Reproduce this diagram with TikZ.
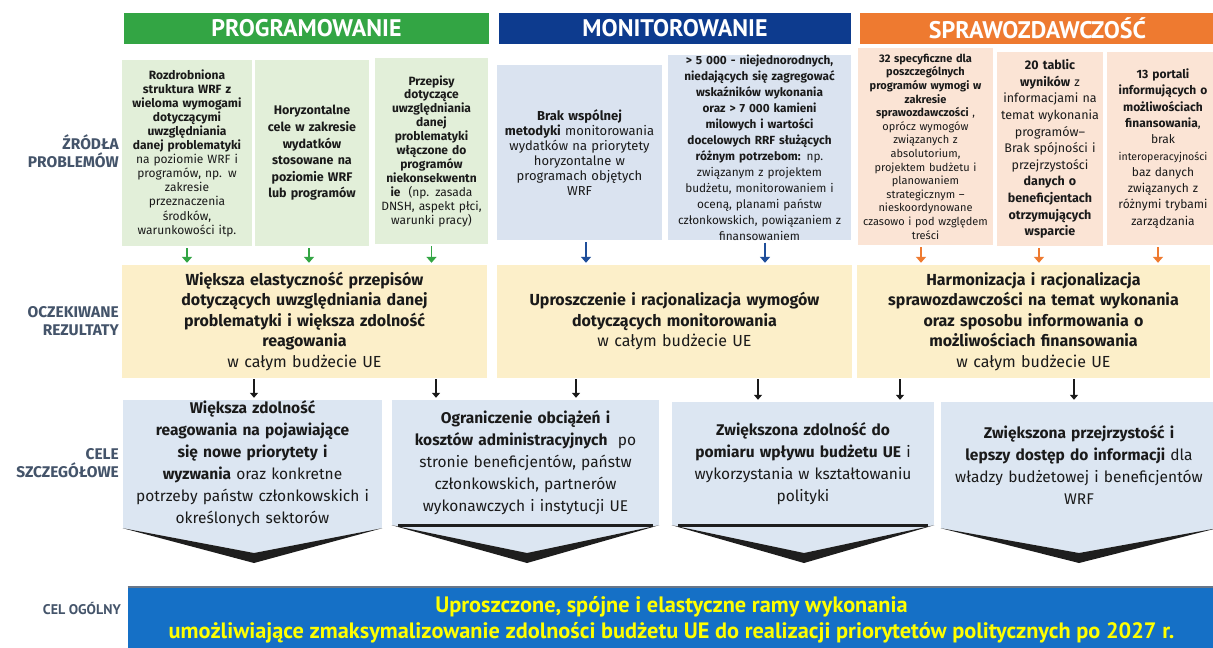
\documentclass[tikz,border=0pt]{standalone}
\usepackage{fontspec}
\setmainfont{Fira Sans}
\newfontfamily\condfont{PT Sans}
\usetikzlibrary{arrows.meta}
\definecolor{hgreen}{HTML}{33A544}
\definecolor{hblue}{HTML}{0D3B8E}
\definecolor{horange}{HTML}{EE7A30}
\definecolor{lgreen}{HTML}{E2EFD9}
\definecolor{lblue}{HTML}{DAE3F0}
\definecolor{lorange}{HTML}{FBE4D5}
\definecolor{lyellow}{HTML}{FCEFC9}
\definecolor{lchev}{HTML}{DCE6F2}
\definecolor{barblue}{HTML}{1570C6}
\definecolor{baryellow}{HTML}{FFFF00}
\definecolor{labelc}{HTML}{44546A}
\definecolor{ink}{HTML}{1A1A1A}
\definecolor{arrblue}{HTML}{1F4E9A}
\definecolor{shadowc}{HTML}{1E1E1E}
\tikzset{
  hdr/.style={fill=#1, text=white, font=\condfont\bfseries\fontsize{24}{26}\selectfont, inner sep=0pt, minimum height=31pt},
  srcbox/.style={fill=#1, text=ink, align=center, inner sep=0pt},
  resbox/.style={fill=lyellow, text=ink, align=center, inner sep=0pt, minimum height=113pt, font=\fontsize{16}{20.5}\selectfont},
  objbox/.style={fill=lchev, text=ink, align=center, inner sep=0pt, font=\fontsize{15.5}{22}\selectfont},
  rowlabel/.style={text=labelc, font=\bfseries\fontsize{15.5}{17.5}\selectfont, align=right, anchor=east, inner sep=0pt},
  carr/.style={draw=#1, line width=1.8pt, -{Triangle[length=6pt,width=10pt]}, shorten <=2pt, shorten >=2pt},
  karr/.style={draw=ink, line width=1.6pt, -{Triangle[length=5pt,width=8pt]}, shorten <=1pt, shorten >=2pt},
  shadowband/.style={fill=shadowc},
  chevline/.style={draw=shadowc, line width=2.6pt},
}
\begin{document}
\begin{tikzpicture}[x=1pt,y=-1pt]
\useasboundingbox (0,0) rectangle (1213,648);
\clip (0,0) rectangle (1213,648);
\fill[white] (0,0) rectangle (1213,648);

% headers
\node[hdr=hgreen, minimum width=365pt] (hp) at (306.5,28.5) {PROGRAMOWANIE};
\node[hdr=hblue, minimum width=352pt] (hm) at (675,28.5) {MONITOROWANIE};
\node[hdr=horange, minimum width=355pt] (hs) at (1037.5,28.5) {SPRAWOZDAWCZOŚĆ};

% row labels
\node[rowlabel] (l1) at (119,151) {ŹRÓDŁA\\PROBLEMÓW};
\node[rowlabel] (l2) at (119,321) {OCZEKIWANE\\REZULTATY};
\node[rowlabel] (l3) at (119,463) {CELE\\SZCZEGÓŁOWE};
\node[rowlabel, font=\condfont\bfseries\fontsize{14}{16}\selectfont] (l4) at (121,609) {CEL OGÓLNY};

% sources of problems
\node[srcbox=lgreen, minimum width=130pt, minimum height=186pt, text width=128pt, font=\fontsize{12}{14.1}\selectfont] (g1) at (187,153)
 {\bfseries Rozdrobniona\\struktura WRF z\\wieloma wymogami\\dotyczącymi\\uwzględniania\\danej problematyki\\\mdseries na poziomie WRF i\\programów, np. w\\zakresie\\przeznaczenia\\środków,\\warunkowości itp.};
\node[srcbox=lgreen, minimum width=114pt, minimum height=186pt, text width=112pt, font=\fontsize{12.5}{16.6}\selectfont] (g2) at (312,153)
 {\bfseries Horyzontalne\\cele w zakresie\\wydatków\\stosowane na\\poziomie WRF\\lub programów};
\node[srcbox=lgreen, minimum width=113pt, minimum height=186pt, text width=111pt, font=\fontsize{12}{13.9}\selectfont] (g3) at (431.5,151)
 {\bfseries Przepisy\\dotyczące\\uwzględniania\\danej\\problematyki\\włączone do\\programów\\niekonsekwentn\\ie\mdseries{}\ \ (np. zasada\\DNSH, aspekt płci,\\warunki pracy)};

\node[srcbox=lblue, minimum width=165pt, minimum height=175pt, text width=162pt, font=\fontsize{13}{15}\selectfont] (m1) at (579.5,152.5)
 {\bfseries Brak wspólnej\\metodyki \mdseries monitorowania\\wydatków na priorytety\\horyzontalne w\\programach objętych\\WRF};
\node[srcbox=lblue, minimum width=183pt, minimum height=185pt, text width=181pt, font=\fontsize{11.8}{16}\selectfont] (m2) at (759.5,147.5)
 {\bfseries > 5 000 - niejednorodnych,\\niedających się zagregować\\wskaźników wykonania\\oraz > 7 000 kamieni\\milowych i wartości\\docelowych RRF służących\\różnym potrzebom:\mdseries{} np.\\związanym z projektem\\budżetu, monitorowaniem i\\oceną, planami państw\\członkowskich, powiązaniem z\\finansowaniem};

\node[srcbox=lorange, minimum width=135pt, minimum height=197pt, text width=134pt, font=\fontsize{11}{13.6}\selectfont] (o1) at (925.5,146.5)
 {\bfseries 32 specyficzne dla\\poszczególnych\\programów wymogi w\\zakresie\\sprawozdawczości\mdseries{} ,\\oprócz wymogów\\związanych z\\absolutorium,\\projektem budżetu i\\planowaniem\\strategicznym –\\nieskoordynowane\\czasowo i pod względem\\treści};
\node[srcbox=lorange, minimum width=106pt, minimum height=194pt, text width=105pt, font=\fontsize{12.5}{16.6}\selectfont] (o2) at (1050,149)
 {\bfseries 20 tablic\\wyników \mdseries z\\informacjami na\\temat wykonania\\programów–\\Brak spójności i\\przejrzystości\\\bfseries danych o\\beneficjentach\\otrzymujących\\wsparcie};
\node[srcbox=lorange, minimum width=112pt, minimum height=193pt, text width=98pt, font=\fontsize{12}{16.3}\selectfont] (o3) at (1163,148.5)
 {\bfseries 13 portali\\informujących o\\możliwościach\\finansowania\mdseries ,\\brak\\{\fontsize{10.6}{16.3}\selectfont interoperacyjności}\\baz danych\\związanych z\\różnymi trybami\\zarządzania};

% expected results
\node[resbox, minimum width=365pt, text width=362pt] (r1) at (304.5,321.5)
 {\bfseries Większa elastyczność przepisów\\dotyczących uwzględniania danej\\problematyki i większa zdolność\\reagowania\\\mdseries w całym budżecie UE};
\node[resbox, minimum width=355pt, text width=352pt] (r2) at (674.5,321.5)
 {\bfseries Uproszczenie i racjonalizacja wymogów\\dotyczących monitorowania\\\mdseries w całym budżecie UE};
\node[resbox, minimum width=353pt, text width=350pt] (r3) at (1033.5,321.5)
 {\bfseries Harmonizacja i racjonalizacja\\sprawozdawczości na temat wykonania\\oraz sposobu informowania o\\możliwościach finansowania\\\mdseries w całym budżecie UE};

% arrows sources -> results
\draw[carr=hgreen] (g1.south) -- (g1.south |- r1.north);
\draw[carr=hgreen] ([xshift=-3pt]g2.south) -- ([xshift=-3pt]g2.south |- r1.north);
\draw[carr=hgreen] (g3.south) -- (g3.south |- r1.north);
\draw[carr=arrblue] ([xshift=6.5pt]m1.south) -- ([xshift=6.5pt]m1.south |- r2.north);
\draw[carr=arrblue] ([xshift=5.5pt]m2.south) -- ([xshift=5.5pt]m2.south |- r2.north);
\draw[carr=horange] ([xshift=-4.5pt]o1.south) -- ([xshift=-4.5pt]o1.south |- r3.north);
\draw[carr=horange] ([xshift=-11pt]o2.south) -- ([xshift=-11pt]o2.south |- r3.north);
\draw[carr=horange] ([xshift=-5pt]o3.south) -- ([xshift=-5pt]o3.south |- r3.north);

% specific objectives
\node[objbox, minimum width=259pt, minimum height=128pt, text width=257pt] (c1) at (252.5,464)
 {\bfseries Większa zdolność\\reagowania na pojawiające\\się nowe priorytety i\\wyzwania\mdseries{} oraz konkretne\\potrzeby państw członkowskich i\\określonych sektorów};
\node[objbox, minimum width=267pt, minimum height=125pt, text width=265pt] (c2) at (525.5,462.5)
 {\bfseries Ograniczenie obciążeń i\\kosztów administracyjnych\mdseries{}\ \ po\\stronie beneficjentów, państw\\członkowskich, partnerów\\wykonawczych i instytucji UE};
\node[objbox, minimum width=262pt, minimum height=123pt, text width=260pt] (c3) at (803,463.5)
 {\bfseries Zwiększona zdolność do\\pomiaru wpływu budżetu UE\mdseries{} i\\wykorzystania w kształtowaniu\\polityki};
\node[objbox, minimum width=276pt, minimum height=126pt, text width=274pt] (c4) at (1079,465)
 {\bfseries Zwiększona przejrzystość i\\lepszy dostęp do informacji\mdseries{} dla\\władzy budżetowej i beneficjentów\\WRF};

% chevron points
\coordinate (t1) at (254,563);  \coordinate (u1) at (254,553);
\coordinate (t2) at (527,563);  \coordinate (u2) at (527,553);
\coordinate (t3) at (804,563);  \coordinate (u3) at (804,553);
\coordinate (t4) at (1079,563); \coordinate (u4) at (1079,553);

\fill[lchev] (c1.south west) -- (u1) -- (c1.south east) -- cycle;
\fill[shadowband] (c1.south west) -- (t1) -- (c1.south east) -- (u1) -- cycle;
\fill[lchev] (c2.south west) -- (u2) -- (c2.south east) -- cycle;
\fill[shadowband] (c2.south west) -- (t2) -- (c2.south east) -- (u2) -- cycle;
\draw[chevline] ([xshift=6pt]c2.south west) -- ([xshift=-6pt]c2.south east);
\fill[lchev] (c3.south west) -- (u3) -- (c3.south east) -- cycle;
\fill[shadowband] (c3.south west) -- (t3) -- (c3.south east) -- (u3) -- cycle;
\draw[chevline] ([xshift=6pt]c3.south west) -- ([xshift=-6pt]c3.south east);
\fill[lchev] (c4.south west) -- (u4) -- (c4.south east) -- cycle;
\fill[shadowband] (c4.south west) -- (t4) -- (c4.south east) -- (u4) -- cycle;

% arrows results -> objectives
\draw[karr] ([xshift=1.5pt]c1.north |- r1.south) -- ([xshift=1.5pt]c1.north);
\draw[karr] ([xshift=-89.5pt]c2.north |- r1.south) -- ([xshift=-89.5pt]c2.north);
\draw[karr] ([xshift=50.5pt]c2.north |- r2.south) -- ([xshift=50.5pt]c2.north);
\draw[karr] ([xshift=-45pt]c3.north |- r2.south) -- ([xshift=-45pt]c3.north);
\draw[karr] ([xshift=97pt]c3.north |- r3.south) -- ([xshift=97pt]c3.north);
\draw[karr] ([xshift=-5pt]c4.north |- r3.south) -- ([xshift=-5pt]c4.north);

% general objective
\node[fill=barblue, minimum width=1087pt, minimum height=66pt, inner sep=0pt, align=center, text=baryellow,
      font=\condfont\bfseries\fontsize{22.3}{26}\selectfont] (gen) at (671.5,620)
 {Uproszczone, spójne i elastyczne ramy wykonania\\umożliwiające zmaksymalizowanie zdolności budżetu UE do realizacji priorytetów politycznych po 2027 r.};
\draw[draw=labelc!80, line width=1.5pt] (gen.north west) -- (gen.north east);
\end{tikzpicture}
\end{document}
